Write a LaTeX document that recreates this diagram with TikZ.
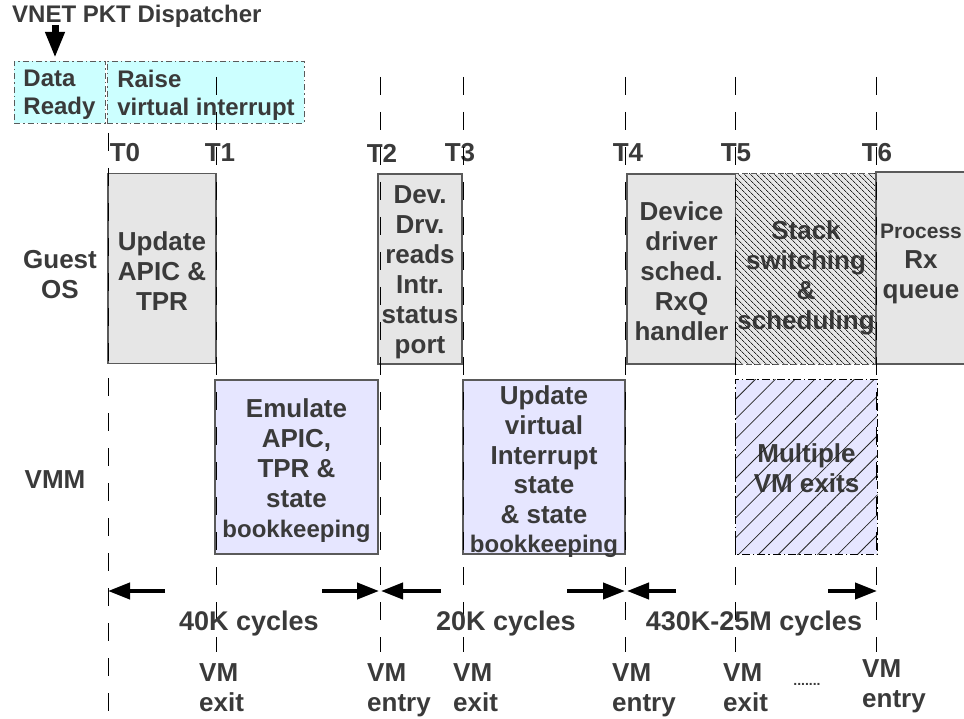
\documentclass[tikz,border=0pt]{standalone}
\usepackage{fontspec}
\setmainfont{Liberation Sans}
\usetikzlibrary{arrows.meta,patterns.meta}
\definecolor{txt}{HTML}{3A3A3A}
\definecolor{cyanfill}{HTML}{CCFFFF}
\definecolor{grayfill}{HTML}{E6E6E6}
\definecolor{lavfill}{HTML}{E6E6FF}
\definecolor{boxline}{HTML}{5A5A5A}
\begin{document}
\begin{tikzpicture}[x=1pt,y=-1pt,
  lbl/.style={font=\fontsize{26}{30}\selectfont\bfseries, text=txt, align=center, inner sep=0pt},
  small/.style={font=\fontsize{24}{28}\selectfont\bfseries, text=txt, inner sep=0pt},
  topbox/.style={fill=cyanfill, draw=boxline, line width=0.9pt,
    dash pattern=on 6pt off 3pt on 1.5pt off 3pt, minimum height=62pt, inner sep=0pt},
  gbox/.style={fill=grayfill, draw=boxline, line width=1.1pt, minimum height=190pt, inner sep=0pt},
  vbox/.style={fill=lavfill, draw=boxline, line width=1.1pt, minimum height=174pt, inner sep=0pt},
  tline/.style={black, line width=0.9pt, dash pattern=on 18pt off 17pt},
  span/.style={line width=4pt, -{Triangle[length=22pt,width=16pt]}},
  cyc/.style={font=\fontsize{27}{30}\selectfont\bfseries, text=txt, inner sep=0pt},
  vmlbl/.style={lbl, align=left, anchor=north west}
]
\useasboundingbox (0,0) rectangle (964,719);

% title and dispatcher arrow
\node[small, anchor=west] (title) at (12,16) {VNET PKT Dispatcher};
\coordinate (dtip) at (55,58);
\draw[line width=7pt, -{Triangle[length=26pt,width=18pt]}] (55,25) -- (dtip);

% top boxes
\node[topbox, minimum width=91pt] (data) at (59.5,92) {};
\node[small, align=left] (datatxt) at (59.5,95) {Data\\Ready};
\node[topbox, minimum width=197pt] (raise) at (205.5,92) {};
\node[small, align=left] (raisetxt) at (206,95) {Raise\\virtual interrupt};

% row labels
\node[lbl] (guest) at (60,275) {Guest\\OS};
\node[lbl] (vmm) at (55,480) {VMM};

% guest OS boxes
\node[gbox, minimum width=108pt] (upd) at (162,268.5) {};
\node[lbl] (updtxt) at (162,271) {Update\\APIC \&\\TPR};
\node[gbox, minimum width=84pt] (dev) at (420,269) {};
\node[lbl] (devtxt) at (420,272) {Dev.\\Drv.\\reads\\Intr.\\status\\port};
\node[gbox, minimum width=109pt] (drv) at (681.5,269) {};
\node[lbl] (drvtxt) at (681.5,271) {Device\\driver\\sched.\\RxQ\\handler};
\node[gbox, draw=none, minimum width=140pt] (stack) at (806,269) {};
\node[lbl] (stacktxt) at (806,278) {Stack\\switching\\\&\\scheduling};
\fill[pattern={Lines[angle=-45,distance=4pt,line width=0.8pt]}, pattern color=black!85]
  (stack.south west) rectangle (stack.north east);
\draw[boxline, line width=0.9pt, dash pattern=on 6pt off 3pt] (stack.south west) rectangle (stack.north east);
\node[gbox, minimum width=90pt, minimum height=192pt] (proc) at (921,268) {};
\node[lbl] (proctxt) at (921,264) {{\fontsize{21}{30}\selectfont Process}\\Rx\\queue};

% VMM boxes
\node[vbox, minimum width=163pt] (emu) at (296.5,467) {};
\node[lbl] (emutxt) at (296.5,471) {Emulate\\APIC,\\TPR \&\\state\\{\fontsize{24}{28}\selectfont bookkeeping}};
\node[vbox, minimum width=162pt] (uvi) at (544,467) {};
\node[lbl, font=\fontsize{26}{29.6}\selectfont\bfseries] (uvitxt) at (544,472) {Update\\virtual\\Interrupt\\state\\\& state\\{\fontsize{24}{28}\selectfont bookkeeping}};
\node[vbox, draw=none, minimum width=141pt] (mult) at (806.5,467) {};
\node[lbl] (multtxt) at (806.5,468) {Multiple\\VM exits};
\fill[pattern={Lines[angle=45,distance=14pt,line width=0.8pt]}, pattern color=black!85]
  (mult.south west) rectangle (mult.north east);
\draw[black, line width=0.9pt, dash pattern=on 8pt off 3pt on 1.5pt off 3pt] (mult.south west) rectangle (mult.north east);

% time labels
\node[lbl] (t0) at (125,153) {T0};
\node[lbl] (t1) at (220,153) {T1};
\node[lbl] (t2) at (382,153) {T2};
\node[lbl] (t3) at (460,153) {T3};
\node[lbl] (t4) at (628,153) {T4};
\node[lbl] (t5) at (736,153) {T5};
\node[lbl] (t6) at (877,153) {T6};

% time lines
\draw[tline] (108,133) -- (108,712);
\foreach \x in {216,380,463,625,735,876} \draw[tline] (\x,77) -- (\x,652);

% cycle spans
\coordinate (a0) at (108,591);
\coordinate (a1) at (379,591);
\coordinate (a2) at (381,591);
\coordinate (a3) at (625,591);
\coordinate (a4) at (627,591);
\coordinate (a5) at (877,591);
\draw[span] (165,591) -- (a0);
\draw[span] (322,591) -- (a1);
\draw[span] (441,591) -- (a2);
\draw[span] (567,591) -- (a3);
\draw[span] (676,591) -- (a4);
\draw[span] (828,591) -- (a5);
\node[cyc] (c1) at (249,624) {40K cycles};
\node[cyc] (c2) at (506,624) {20K cycles};
\node[cyc] (c3) at (754,624) {430K-25M cycles};

% VM event labels
\node[vmlbl] (e1) at (199,663) {VM\\exit};
\node[vmlbl] (e2) at (367,663) {VM\\entry};
\node[vmlbl] (e3) at (453,663) {VM\\exit};
\node[vmlbl] (e4) at (612,663) {VM\\entry};
\node[vmlbl] (e5) at (723,663) {VM\\exit};
\node[font=\fontsize{14}{16}\selectfont\bfseries, text=txt, inner sep=0pt] (dots) at (807,684) {.......};
\node[vmlbl] (e6) at (862,659) {VM\\entry};
\end{tikzpicture}
\end{document}
